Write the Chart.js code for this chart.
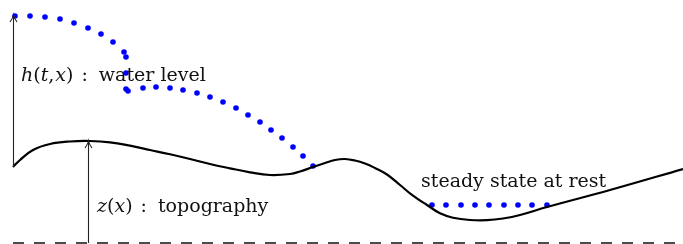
<!DOCTYPE html>
<html lang="en">
<head>
    <meta charset="UTF-8">
    <title>Water level over topography</title>
    <style>
        body { margin: 0; background: #fff; }
        canvas { display: block; }
    </style>
</head>
<body>
    <canvas id="myChart" width="683" height="244"></canvas>

    <script src="https://cdn.jsdelivr.net/npm/chart.js@4"></script>
    <script>
        // topography z(x), heights measured from the dashed reference line
        let topoX = [0.13, 0.20, 0.33, 0.50, 0.70, 0.90, 1.10, 1.30, 1.50, 1.70, 1.90, 2.10, 2.30, 2.50, 2.70, 2.90, 3.00, 3.13, 3.25, 3.35, 3.45, 3.55, 3.65, 3.75, 3.87, 4.00, 4.13, 4.27, 4.40, 4.53, 4.70, 4.87, 5.03, 5.20, 5.47, 6.10, 6.83]
        let topoY = [0.76, 0.83, 0.93, 0.99, 1.015, 1.02, 1.007, 0.973, 0.93, 0.887, 0.84, 0.79, 0.747, 0.707, 0.68, 0.69, 0.715, 0.76, 0.80, 0.83, 0.84, 0.825, 0.795, 0.75, 0.685, 0.58, 0.473, 0.38, 0.297, 0.253, 0.23, 0.228, 0.245, 0.28, 0.36, 0.53, 0.74]

        // water level h(t,x)
        let waterX = [0.15, 0.30, 0.45, 0.60, 0.74, 0.88, 1.01, 1.13, 1.24, 1.26, 1.26, 1.26, 1.28, 1.43, 1.56, 1.70, 1.83, 1.97, 2.10, 2.23, 2.36, 2.48, 2.60, 2.71, 2.82, 2.93, 3.03, 3.13]
        let waterY = [2.27, 2.27, 2.26, 2.24, 2.20, 2.15, 2.09, 2.01, 1.91, 1.86, 1.70, 1.54, 1.52, 1.55, 1.56, 1.55, 1.53, 1.50, 1.46, 1.41, 1.35, 1.28, 1.21, 1.13, 1.05, 0.96, 0.87, 0.77]

        // lake at rest
        let restX = [4.32, 4.46, 4.61, 4.75, 4.89, 5.04, 5.18, 5.32, 5.47]
        let restY = [0.38, 0.38, 0.38, 0.38, 0.38, 0.38, 0.38, 0.38, 0.38]

        // reference line
        let baseX = [0.13, 6.83]
        let baseY = [0, 0]

        // arrows: [x, yFrom, yTo]
        let arrows = [[0.13, 0.76, 2.28], [0.88, 0, 1.02]]

        // labels: parts are [text, italic, extra space after in px]
        let labels = [
            { x: 0.21, y: 1.62, parts: [['h', 1, 0], ['(', 0, 0], ['t', 1, 0], [',', 0, 1], ['x', 1, 0], [')', 0, 8], [':', 0, 11], ['water level', 0, 0]] },
            { x: 0.97, y: 0.31, parts: [['z', 1, 0], ['(', 0, 0], ['x', 1, 0], [')', 0, 8], [':', 0, 11], ['topography', 0, 0]] },
            { x: 4.21, y: 0.56, parts: [['steady state at rest', 0, 0]] }
        ]

        const pts = (xs, ys) => xs.map((x, i) => ({ x: x, y: ys[i] }))

        const fontSize = 19
        const fam = '"DejaVu Serif", serif'

        const overlay = {
            id: 'overlay',
            afterDatasetsDraw(chart) {
                const ctx = chart.ctx
                const sx = chart.scales.x, sy = chart.scales.y
                ctx.save()
                ctx.strokeStyle = '#222'
                ctx.lineWidth = 1.1
                arrows.forEach(a => {
                    const px = Math.round(sx.getPixelForValue(a[0])) + 0.5
                    const y0 = sy.getPixelForValue(a[1])
                    const y1 = sy.getPixelForValue(a[2])
                    ctx.beginPath()
                    ctx.moveTo(px, y0)
                    ctx.lineTo(px, y1)
                    ctx.stroke()
                    ctx.beginPath()
                    ctx.moveTo(px - 3.5, y1 + 7)
                    ctx.quadraticCurveTo(px - 0.5, y1 + 3, px, y1)
                    ctx.quadraticCurveTo(px + 0.5, y1 + 3, px + 3.5, y1 + 7)
                    ctx.stroke()
                })
                ctx.fillStyle = '#111'
                ctx.textBaseline = 'alphabetic'
                labels.forEach(l => {
                    let px = sx.getPixelForValue(l.x)
                    const py = sy.getPixelForValue(l.y)
                    l.parts.forEach(p => {
                        ctx.font = (p[1] ? 'italic ' : '') + fontSize + 'px ' + fam
                        ctx.fillText(p[0], px, py)
                        px += ctx.measureText(p[0]).width + p[2]
                    })
                })
                ctx.restore()
            }
        }

        const ctx = document.getElementById('myChart').getContext('2d')
        const chart = new Chart(ctx, {
            type: 'scatter',
            data: {
                datasets: [
                    {
                        data: pts(baseX, baseY),
                        showLine: true,
                        borderColor: '#111',
                        borderWidth: 1.3,
                        borderDash: [11, 10],
                        pointRadius: 0
                    },
                    {
                        data: pts(topoX, topoY),
                        showLine: true,
                        borderColor: '#000',
                        borderWidth: 2.2,
                        tension: 0.4,
                        pointRadius: 0
                    },
                    {
                        data: pts(waterX, waterY),
                        showLine: false,
                        pointRadius: 2.8,
                        pointBackgroundColor: '#0000ff',
                        pointBorderWidth: 0
                    },
                    {
                        data: pts(restX, restY),
                        showLine: false,
                        pointRadius: 2.8,
                        pointBackgroundColor: '#0000ff',
                        pointBorderWidth: 0
                    }
                ]
            },
            options: {
                responsive: false,
                animation: false,
                layout: { padding: 0, autoPadding: false },
                plugins: { legend: { display: false }, tooltip: { enabled: false } },
                scales: {
                    x: { type: 'linear', min: 0, max: 6.83, display: false },
                    y: { type: 'linear', min: -0.01, max: 2.43, display: false }
                }
            },
            plugins: [overlay]
        })
    </script>
</body>
</html>
